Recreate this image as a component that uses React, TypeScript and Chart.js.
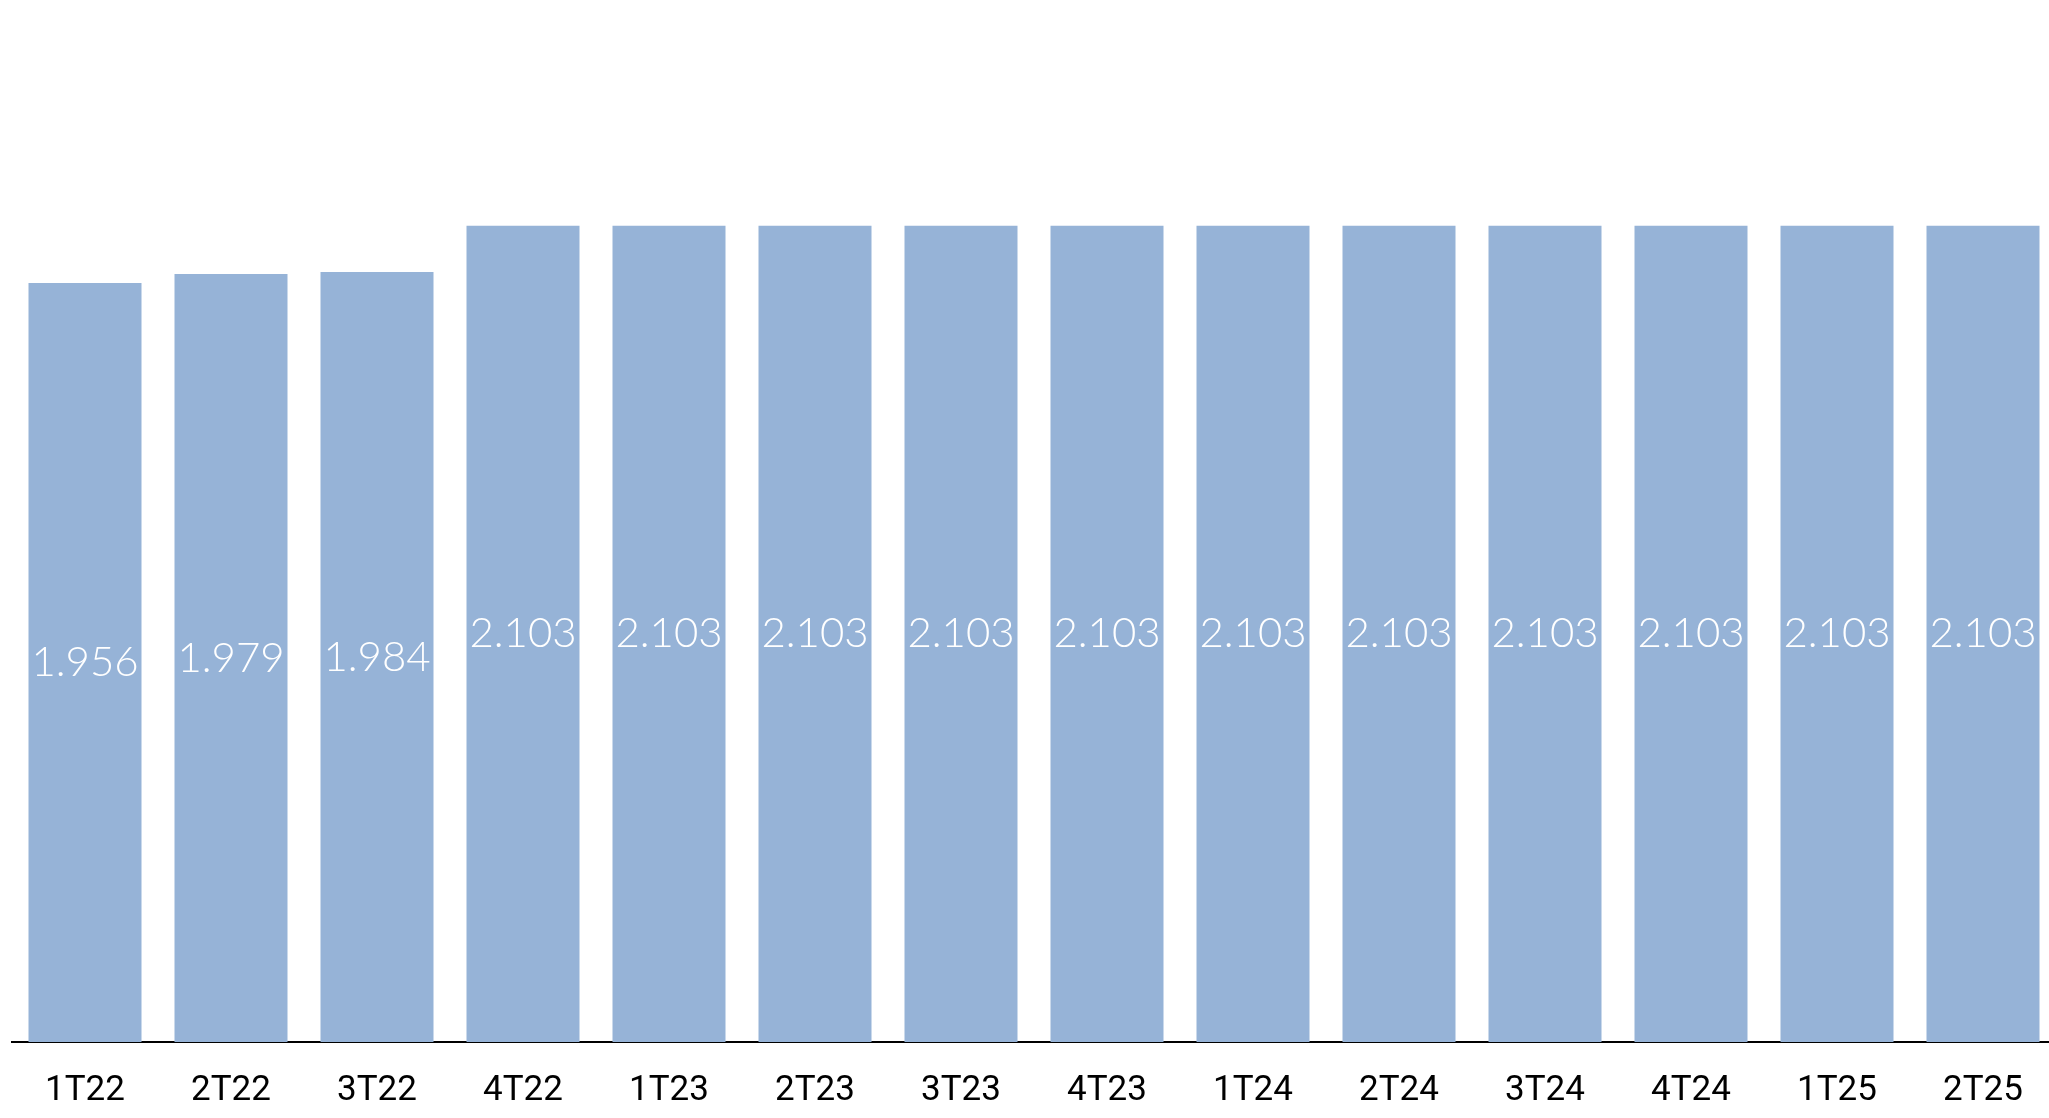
import React, { useEffect, useRef } from "react";
import { Chart, registerables } from "chart.js";

Chart.register(...registerables);

const categories = ["1T22", "2T22", "3T22", "4T22", "1T23", "2T23", "3T23", "4T23", "1T24", "2T24", "3T24", "4T24", "1T25", "2T25"];
const values = [1956, 1979, 1984, 2103, 2103, 2103, 2103, 2103, 2103, 2103, 2103, 2103, 2103, 2103];

const fmt = (v: number) => {
  const s = String(Math.round(v));
  return s.replace(/\B(?=(\d{3})+(?!\d))/g, ".");
};

const valueLabels = {
  id: "valueLabels",
  afterDatasetsDraw(chart: any) {
    const ctx = chart.ctx;
    const meta = chart.getDatasetMeta(0);
    ctx.save();
    ctx.fillStyle = "#ffffff";
    ctx.font = "300 42px Lato, 'Open Sans', sans-serif";
    ctx.textAlign = "center";
    ctx.textBaseline = "middle";
    meta.data.forEach((bar: any, i: number) => {
      const p = bar.getProps(["x", "y", "base"], true);
      ctx.fillText(fmt(values[i]), p.x, (p.y + p.base) / 2);
    });
    ctx.restore();
  },
};

export default function App() {
  const ref = useRef<HTMLCanvasElement | null>(null);
  useEffect(() => {
    if (!ref.current) return;
    const chart = new Chart(ref.current, {
      type: "bar",
      data: {
        labels: categories,
        datasets: [
          {
            data: values,
            backgroundColor: "#96b3d7",
            borderWidth: 0,
            categoryPercentage: 1,
            barPercentage: 0.774,
          },
        ],
      },
      options: {
        responsive: false,
        animation: false,
        devicePixelRatio: 1,
        layout: { padding: { left: 12, right: 0, top: 33, bottom: 0 } },
        plugins: { legend: { display: false }, tooltip: { enabled: false } },
        scales: {
          x: {
            grid: { display: false, drawTicks: false },
            border: { display: true, color: "#000000", width: 2 },
            ticks: {
              color: "#000000",
              padding: 28,
              font: { family: "Roboto, sans-serif", size: 35 },
              maxRotation: 0,
              autoSkip: false,
            },
            afterFit: (scale: any) => {
              scale.height = 76;
            },
          },
          y: {
            display: false,
            min: 0,
            max: 2600,
          },
        },
      },
      plugins: [valueLabels],
    });
    return () => chart.destroy();
  }, []);
  return (
    <div style={{ position: "fixed", left: 0, top: 0, width: 2049, height: 1118, overflow: "hidden", background: "#ffffff" }}>
      <canvas ref={ref} width={2056} height={1118} style={{ width: 2056, height: 1118, display: "block" }} />
    </div>
  );
}
